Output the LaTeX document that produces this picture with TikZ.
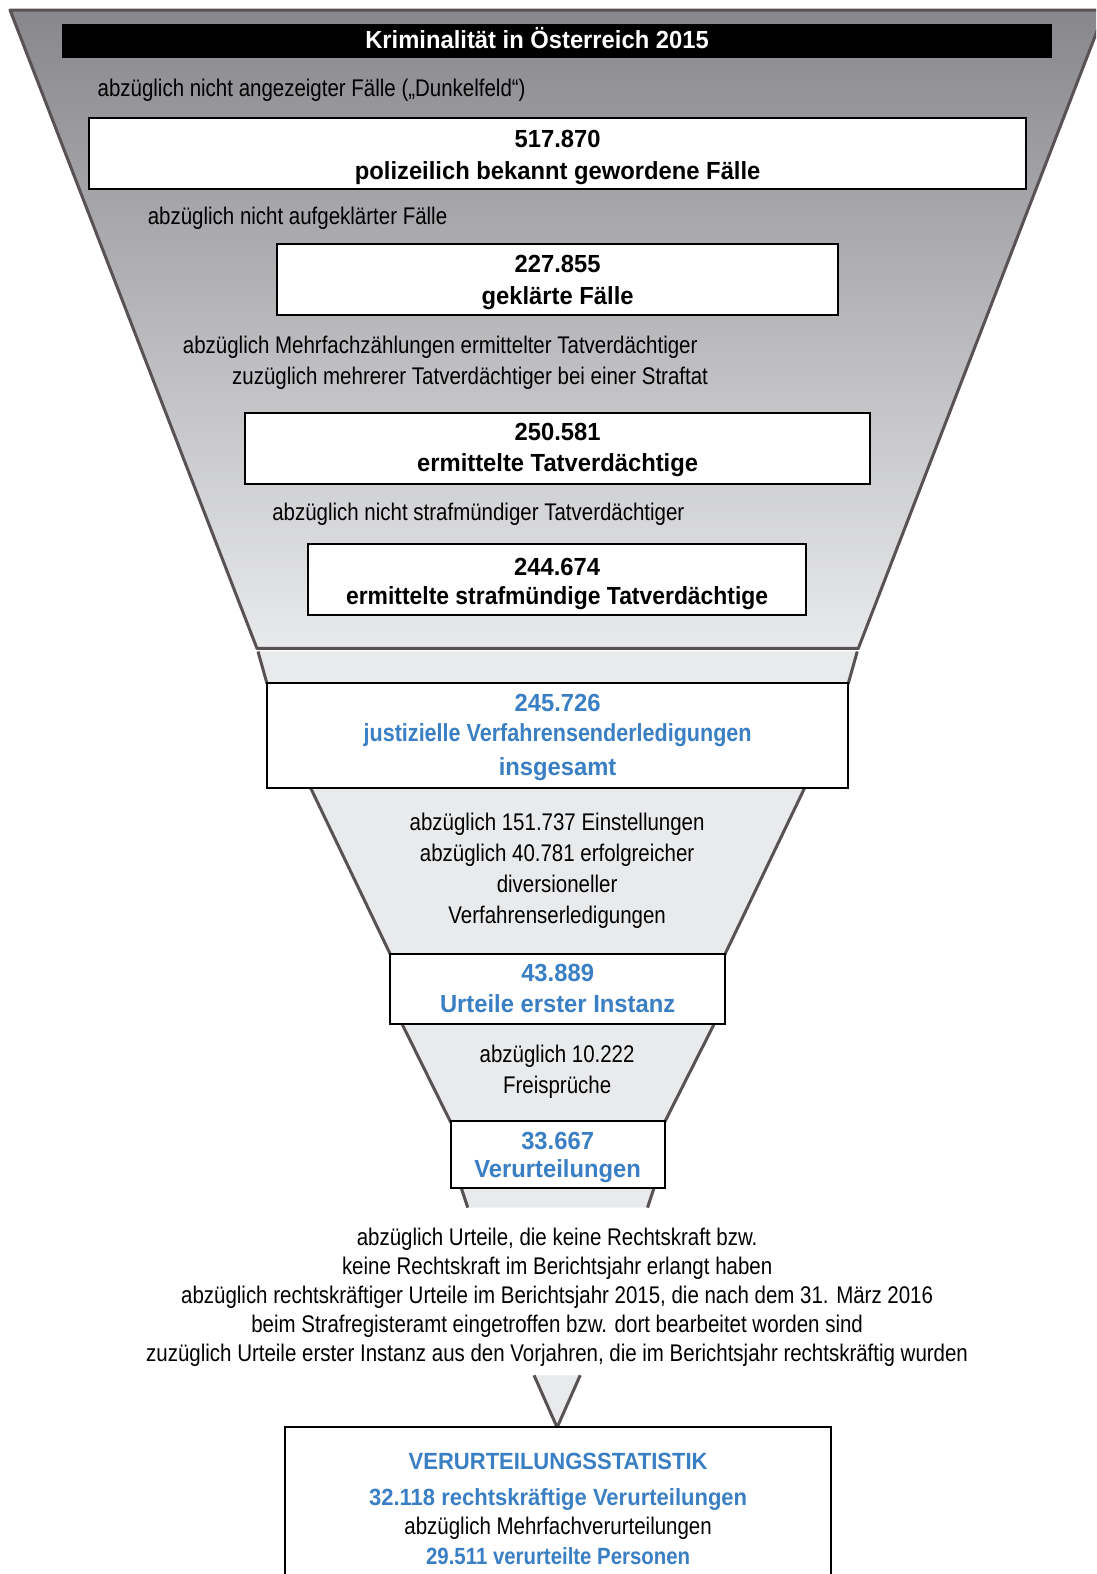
\documentclass[tikz,border=0pt]{standalone}
\usepackage{fontspec}
\setmainfont{Liberation Sans}[FakeStretch=0.85]
\newfontfamily\bA{Liberation Sans}[FakeStretch=0.96]
\newfontfamily\bB{Liberation Sans}[FakeStretch=0.94]
\newfontfamily\bC{Liberation Sans}[FakeStretch=0.87]
\newfontfamily\bD{Liberation Sans}[FakeStretch=0.925]
\definecolor{jblue}{RGB}{58,127,196}
\definecolor{edgec}{RGB}{88,82,84}
\definecolor{lightf}{RGB}{233,234,236}
\definecolor{topf}{RGB}{136,136,140}
\tikzset{
  boxst/.style={draw=black,fill=white,line width=1.5pt,inner sep=0pt},
  lbl/.style={inner sep=0pt,text height=12.6pt,text depth=1.8pt,font=\fontsize{18}{22}\selectfont},
  blbl/.style={inner sep=0pt,text height=13pt,text depth=1.9pt,font=\bA\bfseries\fontsize{18.5}{22}\selectfont},
  bluet/.style={text=jblue},
  fedge/.style={draw=edgec,line width=2.25pt,line join=round},
  ffill/.style={fill=lightf}}
\begin{document}
\begin{tikzpicture}[x=0.75pt,y=-0.75pt]
\useasboundingbox (0,0) rectangle (1092,1568);
\clip (0,0) rectangle (1092,1568);
% upper funnel
\path[fedge,top color=topf,bottom color=lightf] (10,10) -- (1101,10) -- (855,646) -- (256,646) -- cycle;
% band below upper funnel
\fill[ffill] (257,649) -- (854,649) -- (845,681) -- (266,681) -- cycle;
\draw[fedge] (257,649) -- (266,681);
\draw[fedge] (854,649) -- (845,681);
% segment b
\fill[ffill] (309,784) -- (802,784) -- (722,951) -- (389,951) -- cycle;
\draw[fedge] (309,784) -- (389,951);
\draw[fedge] (802,784) -- (722,951);
% segment c
\fill[ffill] (400,1019) -- (712,1019) -- (662,1118) -- (449,1118) -- cycle;
\draw[fedge] (400,1019) -- (449,1118);
\draw[fedge] (712,1019) -- (662,1118);
% segment d
\fill[ffill] (459,1182) -- (652,1182) -- (645,1203) -- (466,1203) -- cycle;
\draw[fedge] (459,1182) -- (466,1203);
\draw[fedge] (652,1182) -- (645,1203);
% triangle e
\fill[ffill] (532,1370) -- (578,1370) -- (555,1422) -- cycle;
\draw[fedge] (532,1370) -- (555,1422) -- (578,1370);

% title bar
\node[fill=black,inner sep=0pt,minimum width=739.5pt,minimum height=25.5pt] (titlebar) at (555,41) {};
\node[blbl,text=white] (title) at (535,41) {Kriminalität in Österreich 2015};

% boxes
\node[boxst,minimum width=699.75pt,minimum height=52.5pt] (b1) at (555.5,153) {};
\node[boxst,minimum width=419.25pt,minimum height=53.25pt] (b2) at (555.5,278.5) {};
\node[boxst,minimum width=467.25pt,minimum height=53.25pt] (b3) at (555.5,446.5) {};
\node[boxst,minimum width=372pt,minimum height=53.25pt] (b4) at (555,577.5) {};
\node[boxst,minimum width=434.25pt,minimum height=78.75pt] (b5) at (555.5,732.5) {};
\node[boxst,minimum width=249.75pt,minimum height=52.5pt] (b6) at (555.5,985) {};
\node[boxst,minimum width=159.75pt,minimum height=49.5pt] (b7) at (555.5,1150) {};
\node[boxst,minimum width=408pt,minimum height=135pt] (b8) at (556,1512) {};

% upper texts
\node[lbl,anchor=west] (t1) at (97,89) {abzüglich nicht angezeigter Fälle („Dunkelfeld“)};
\node[blbl] (b1a) at (555.5,140) {517.870};
\node[blbl] (b1b) at (555.5,171) {polizeilich bekannt gewordene Fälle};

\node[lbl,anchor=west] (t2) at (147,216) {abzüglich nicht aufgeklärter Fälle};
\node[blbl] (b2a) at (555.5,264) {227.855};
\node[blbl] (b2b) at (555.5,296) {geklärte Fälle};

\node[lbl,anchor=west] (t3) at (182,345) {abzüglich Mehrfachzählungen ermittelter Tatverdächtiger};
\node[lbl,anchor=west] (t4) at (231,376) {zuzüglich mehrerer Tatverdächtiger bei einer Straftat};
\node[blbl] (b3a) at (555.5,431) {250.581};
\node[blbl] (b3b) at (555.5,462) {ermittelte Tatverdächtige};

\node[lbl,anchor=west] (t5) at (271,511) {abzüglich nicht strafmündiger Tatverdächtiger};
\node[blbl] (b4a) at (555,566) {244.674};
\node[blbl,font=\bD\bfseries\fontsize{18.5}{22}\selectfont] (b4b) at (555,595) {ermittelte strafmündige Tatverdächtige};

% lower texts
\node[blbl,bluet] (b5a) at (555.5,701) {245.726};
\node[blbl,bluet,font=\bC\bfseries\fontsize{18.5}{22}\selectfont] (b5b) at (555.5,731) {justizielle Verfahrensenderledigungen};
\node[blbl,bluet] (b5c) at (555.5,765) {insgesamt};

\node[lbl] (t6a) at (555,820) {abzüglich 151.737 Einstellungen};
\node[lbl] (t6b) at (555,851) {abzüglich 40.781 erfolgreicher};
\node[lbl] (t6c) at (555,882) {diversioneller};
\node[lbl] (t6d) at (555,913) {Verfahrenserledigungen};

\node[blbl,bluet] (b6a) at (555.5,970) {43.889};
\node[blbl,bluet] (b6b) at (555.5,1001) {Urteile erster Instanz};

\node[lbl] (t7a) at (555,1051) {abzüglich 10.222};
\node[lbl] (t7b) at (555,1082) {Freisprüche};

\node[blbl,bluet] (b7a) at (555.5,1138) {33.667};
\node[blbl,bluet] (b7b) at (555.5,1166) {Verurteilungen};

\node[lbl] (t8a) at (555,1234) {abzüglich Urteile, die keine Rechtskraft bzw.};
\node[lbl] (t8b) at (555,1262) {keine Rechtskraft im Berichtsjahr erlangt haben};
\node[lbl] (t8c) at (555,1291) {abzüglich rechtskräftiger Urteile im Berichtsjahr 2015, die nach dem 31. März 2016};
\node[lbl] (t8d) at (555,1320) {beim Strafregisteramt eingetroffen bzw. dort bearbeitet worden sind};
\node[lbl] (t8e) at (555,1349) {zuzüglich Urteile erster Instanz aus den Vorjahren, die im Berichtsjahr rechtskräftig wurden};

\node[blbl,bluet,font=\bB\bfseries\fontsize{17.5}{22}\selectfont] (v1) at (556,1456) {VERURTEILUNGSSTATISTIK};
\node[blbl,bluet,font=\bB\bfseries\fontsize{17.5}{22}\selectfont] (v2) at (556,1492) {32.118 rechtskräftige Verurteilungen};
\node[lbl] (v3) at (556,1521) {abzüglich Mehrfachverurteilungen};
\node[blbl,bluet,font=\bC\bfseries\fontsize{17.5}{22}\selectfont] (v4) at (556,1551) {29.511 verurteilte Personen};
\end{tikzpicture}
\end{document}
